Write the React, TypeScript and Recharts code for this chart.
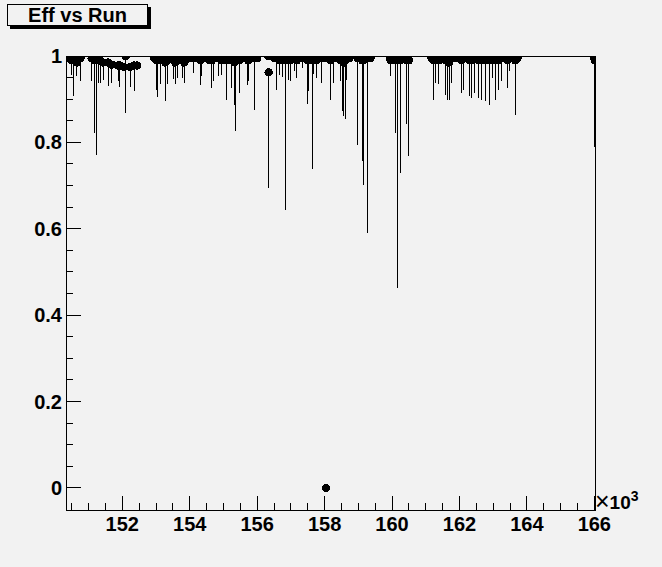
import React from "react";
import { ScatterChart, Scatter, XAxis, YAxis, ErrorBar, ReferenceArea } from "recharts";

// Run number (x 10^3)
const runs = [
  150.36, 150.5, 150.54, 150.65, 150.76,
  151.09, 151.19, 151.24, 151.29, 151.34, 151.43, 151.58, 151.69,
  151.88, 151.93, 152.1, 152.05, 152.23, 152.35, 152.44,
  152.94, 153.02, 153.05, 153.12, 153.27, 153.34, 153.45, 153.52, 153.57, 153.63, 153.72, 153.8, 153.84, 153.98, 154.11, 154.22, 154.31, 154.36, 154.43,
  154.58, 154.66, 154.7, 154.85, 154.93, 155.02, 155.1, 155.17, 155.25, 155.33, 155.37, 155.48, 155.59, 155.7, 155.73, 155.83, 155.92, 156.0,
  156.33, 156.34,
  156.51, 156.57, 156.66, 156.74, 156.84, 156.92, 156.98, 157.04, 157.11, 157.18, 157.25, 157.33, 157.4, 157.49, 157.53, 157.58, 157.65, 157.68, 157.75, 157.82, 157.91,
  158.01, 158.04,
  158.17, 158.27, 158.38, 158.47, 158.52, 158.57, 158.62, 158.65, 158.74,
  158.98, 159.06, 159.11, 159.14, 159.21, 159.28, 159.36,
  159.93, 159.96, 160.05, 160.11, 160.17, 160.25, 160.34, 160.43, 160.48, 160.5,
  161.17, 161.22, 161.29, 161.39, 161.47, 161.59, 161.64, 161.69, 161.76, 161.83,
  161.98, 162.06, 162.13, 162.21, 162.31, 162.36, 162.46, 162.56, 162.66, 162.76, 162.88, 162.98, 163.06, 163.17, 163.25, 163.34, 163.42, 163.47, 163.55, 163.65, 163.72,
  166.0, 166.02,
];

// Efficiency
const effs = [
  0.995, 0.99, 0.99, 0.985, 0.995,
  0.995, 0.99, 0.995, 0.99, 0.99, 0.985, 0.985, 0.98,
  0.978, 0.978, 1.0, 0.975, 0.975, 0.978, 0.978,
  0.995, 0.99, 0.99, 0.995, 0.985, 0.99, 0.995, 0.99, 0.985, 0.99, 0.995, 0.99, 0.985, 0.995, 0.995, 0.995, 0.99, 0.995, 0.995,
  0.99, 0.99, 0.995, 0.995, 0.99, 0.995, 0.99, 0.995, 0.99, 0.985, 0.99, 0.99, 0.995, 0.995, 0.99, 0.995, 0.995, 0.995,
  1.0, 0.962,
  0.995, 0.995, 0.99, 0.99, 0.99, 0.995, 0.99, 0.995, 0.995, 0.99, 0.995, 0.995, 0.995, 0.99, 0.995, 0.995, 0.99, 0.995, 0.99, 0.995, 0.995,
  0.995, 0.0,
  0.99, 0.995, 0.995, 0.99, 0.99, 0.985, 0.99, 0.995, 0.995,
  0.995, 0.995, 0.99, 0.99, 0.995, 0.995, 0.995,
  0.995, 0.99, 0.995, 0.99, 0.995, 0.99, 0.995, 0.99, 0.99, 0.99,
  0.995, 0.99, 0.995, 0.99, 0.995, 0.99, 0.99, 0.985, 0.995, 0.995,
  0.995, 0.99, 0.995, 0.995, 0.99, 0.99, 0.995, 0.99, 0.99, 0.99, 0.99, 0.995, 0.99, 0.99, 0.995, 0.995, 0.99, 0.995, 0.995, 0.99, 0.995,
  0.995, 0.99,
];

// Lower end of the error bar
const effLows = [
  0.995, 0.956, 0.907, 0.954, 0.942,
  0.942, 0.822, 0.771, 0.937, 0.937, 0.944, 0.93, 0.937,
  0.942, 0.928, 0.868, 0.975, 0.928, 0.919, 0.978,
  0.995, 0.922, 0.904, 0.935, 0.896, 0.935, 0.995, 0.946, 0.935, 0.949, 0.995, 0.949, 0.937, 0.995, 0.961, 0.995, 0.932, 0.954, 0.995,
  0.99, 0.927, 0.942, 0.954, 0.957, 0.995, 0.899, 0.995, 0.926, 0.887, 0.827, 0.914, 0.995, 0.934, 0.943, 0.995, 0.876, 0.995,
  1.0, 0.695,
  0.995, 0.922, 0.957, 0.951, 0.644, 0.945, 0.942, 0.995, 0.965, 0.949, 0.995, 0.972, 0.995, 0.889, 0.918, 0.995, 0.738, 0.958, 0.949, 0.995, 0.937,
  0.995, 0.0,
  0.899, 0.937, 0.995, 0.942, 0.872, 0.86, 0.855, 0.945, 0.995,
  0.795, 0.995, 0.758, 0.701, 0.995, 0.59, 0.995,
  0.995, 0.953, 0.995, 0.822, 0.463, 0.73, 0.995, 0.843, 0.802, 0.769,
  0.995, 0.899, 0.937, 0.935, 0.995, 0.91, 0.899, 0.897, 0.937, 0.995,
  0.995, 0.914, 0.922, 0.995, 0.907, 0.903, 0.914, 0.903, 0.899, 0.895, 0.887, 0.949, 0.899, 0.922, 0.941, 0.995, 0.926, 0.965, 0.995, 0.864, 0.995,
  0.79, 0.787,
];

const xTicks = [
  150.5, 151, 151.5, 152, 152.5, 153, 153.5, 154, 154.5, 155, 155.5, 156, 156.5, 157, 157.5,
  158, 158.5, 159, 159.5, 160, 160.5, 161, 161.5, 162, 162.5, 163, 163.5, 164, 164.5, 165, 165.5, 166,
];
const yTicks = [
  0, 0.05, 0.1, 0.15, 0.2, 0.25, 0.3, 0.35, 0.4, 0.45, 0.5, 0.55, 0.6, 0.65, 0.7, 0.75, 0.8, 0.85, 0.9, 0.95, 1,
];
const xDomain = [150.33, 166.02];
const yDomain = [-0.051, 1.0];

const title = "Eff vs Run";

const data = runs.map((r, i) => ({
  run: r,
  eff: effs[i],
  err: [Math.max(0, +(effs[i] - effLows[i]).toFixed(4)), 0],
}));

const FONT = "'Liberation Sans', Arial, Helvetica, sans-serif";
const BG = "#f2f2f2";

const XTick = (props: any) => {
  const { x, y, payload } = props;
  const v = payload.value;
  const major = Math.abs(v / 2 - Math.round(v / 2)) < 1e-6;
  return (
    <g>
      <line x1={x} x2={x} y1={y} y2={y - (major ? 14 : 7)} stroke="#000" strokeWidth={1} />
      {major && (
        <text x={x} y={y + 21} textAnchor="middle" fontSize={20} fontWeight="bold" fontFamily={FONT} fill="#000">
          {String(v)}
        </text>
      )}
    </g>
  );
};

const YTick = (props: any) => {
  const { x, y, payload } = props;
  const v = payload.value;
  const major = Math.abs(v * 5 - Math.round(v * 5)) < 1e-6;
  return (
    <g>
      <line x1={x} x2={x + (major ? 15 : 7)} y1={y} y2={y} stroke="#000" strokeWidth={1} />
      {major && (
        <text x={x - 4} y={y + 7} textAnchor="end" fontSize={20} fontWeight="bold" fontFamily={FONT} fill="#000">
          {String(v)}
        </text>
      )}
    </g>
  );
};

const Dot = (p: any) => <circle cx={p.cx} cy={p.cy} r={4.2} fill="#000" />;

export default function App() {
  return (
    <div
      style={{
        position: "absolute",
        left: 0,
        top: 0,
        width: 662,
        height: 567,
        background: BG,
        overflow: "hidden",
        shapeRendering: "crispEdges",
      } as any}
    >
      <ScatterChart width={662} height={567} margin={{ top: 56, right: 67, bottom: 17, left: 6 }}>
        <XAxis
          type="number"
          dataKey="run"
          domain={xDomain}
          allowDataOverflow
          ticks={xTicks}
          interval={0}
          tick={<XTick />}
          tickLine={false}
          tickSize={0}
          tickMargin={0}
          height={40}
          axisLine={{ stroke: "#000", strokeWidth: 1 }}
        />
        <YAxis
          type="number"
          dataKey="eff"
          domain={yDomain}
          allowDataOverflow
          ticks={yTicks}
          interval={0}
          tick={<YTick />}
          tickLine={false}
          tickSize={0}
          tickMargin={0}
          width={60}
          axisLine={{ stroke: "#000", strokeWidth: 1 }}
        />
        <ReferenceArea
          x1={xDomain[0]}
          x2={xDomain[1]}
          y1={yDomain[0]}
          y2={yDomain[1]}
          fill="none"
          fillOpacity={0}
          stroke="#000"
          strokeWidth={1}
        />
        <Scatter data={data} shape={<Dot />} isAnimationActive={false}>
          <ErrorBar dataKey="err" direction="y" width={0} stroke="#000" strokeWidth={1} isAnimationActive={false} />
        </Scatter>
      </ScatterChart>
      <svg
        width={662}
        height={567}
        style={{ position: "absolute", left: 0, top: 0, pointerEvents: "none" }}
      >
        <rect x={10} y={7} width={141} height={22} fill="#000" />
        <rect x={7} y={4} width={140} height={21} fill={BG} stroke="#000" strokeWidth={1} />
        <text x={77.5} y={22} textAnchor="middle" fontSize={20} fontWeight="bold" fontFamily={FONT} fill="#000">
          {title}
        </text>
        <text x={595} y={510} fontFamily={FONT} fill="#000">
          <tspan fontSize={25} fontWeight="normal">×</tspan>
          <tspan fontSize={19} fontWeight="bold" dy={-1}>10</tspan>
          <tspan fontSize={14} fontWeight="bold" dy={-8}>3</tspan>
        </text>
      </svg>
    </div>
  );
}
